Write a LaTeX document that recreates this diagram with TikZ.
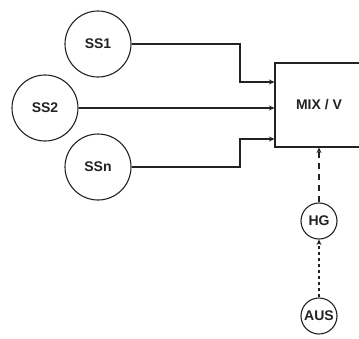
\documentclass[tikz,border=0pt]{standalone}
\usepackage{fontspec}
\setmainfont{Liberation Sans}
\usetikzlibrary{arrows.meta}
\definecolor{ink}{HTML}{222222}
\tikzset{
  ssnode/.style={circle,draw=ink,line width=1.1pt,minimum size=66pt,inner sep=0pt,font=\fontsize{14}{16}\selectfont\bfseries,text=ink},
  smallnode/.style={circle,draw=ink,line width=1.1pt,minimum size=36pt,inner sep=0pt,font=\fontsize{14}{16}\selectfont\bfseries,text=ink},
  boxnode/.style={draw=ink,line width=1.1pt,minimum width=88pt,minimum height=84pt,inner sep=0pt,font=\fontsize{14}{16}\selectfont\bfseries,text=ink},
  arr/.style={draw=ink,line width=1.1pt,-{Stealth[length=5.5pt,width=5pt]}},
  dash1/.style={dash pattern=on 6pt off 5pt},
  dash2/.style={dash pattern=on 3pt off 3pt}
}
\begin{document}
\begin{tikzpicture}[x=1pt,y=-1pt]
\useasboundingbox (0,0) rectangle (359,338);
\clip (0,0) rectangle (359,338);
\node[ssnode] (ss1) at (98,44) {SS1};
\node[ssnode] (ss2) at (45,108) {SS2};
\node[ssnode] (ssn) at (98,167) {SSn};
\node[boxnode] (mix) at (319,105) {MIX / V};
\node[smallnode] (hg) at (319,221) {HG};
\node[smallnode] (aus) at (319,316) {AUS};
\coordinate (in1) at (mix.west |- 0,82);
\coordinate (in2) at (mix.west |- 0,108);
\coordinate (in3) at (mix.west |- 0,139);
\coordinate (b1) at (240,44);
\coordinate (b3) at (240,167);
\draw[arr] (ss1) -- (b1) |- (in1);
\draw[arr] (ss2.east |- in2) -- (in2);
\draw[arr] (ssn) -- (b3) |- (in3);
\draw[arr,dash1] (hg) -- (mix);
\draw[arr,dash2] (aus) -- (hg);
\end{tikzpicture}
\end{document}
